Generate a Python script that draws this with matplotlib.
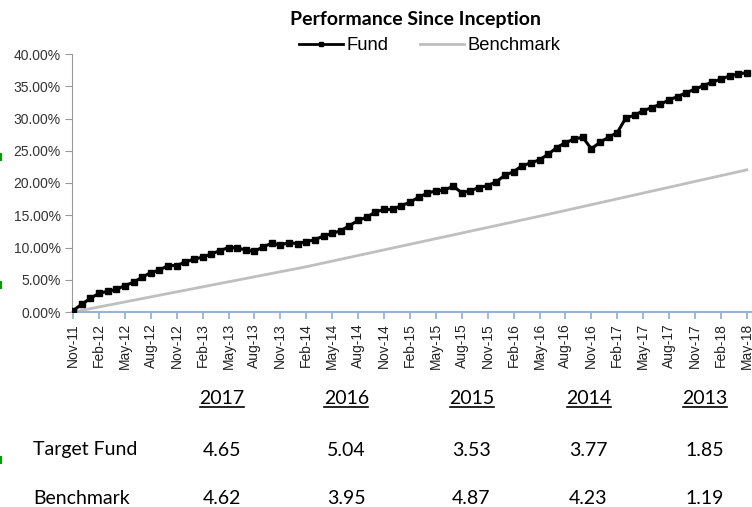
"""
Performance Since Inception - Fund vs Benchmark, com tabela anual abaixo.
"""

import matplotlib
matplotlib.use('Agg')
import matplotlib.pyplot as plt
from matplotlib.lines import Line2D
import numpy as np
import pandas as pd

# Dados (retorno acumulado em %, mensal de Nov-11 a May-18)
fund = [0.2, 1.2, 2.1, 2.9, 3.2, 3.5, 4.1, 4.6, 5.4, 6.1,
        6.5, 7.2, 7.2, 7.75, 8.2, 8.5, 9.0, 9.5, 10.0, 9.95,
        9.6, 9.4, 10.1, 10.65, 10.4, 10.75, 10.6, 10.9, 11.2, 11.8,
        12.2, 12.6, 13.4, 14.2, 14.7, 15.5, 15.9, 15.9, 16.5, 17.0,
        17.8, 18.4, 18.8, 18.9, 19.5, 18.5, 18.8, 19.3, 19.6, 20.2,
        21.2, 21.75, 22.7, 23.1, 23.6, 24.45, 25.5, 26.25, 26.8, 27.1,
        25.3, 26.3, 27.1, 27.8, 30.1, 30.5, 31.2, 31.7, 32.2, 32.9,
        33.4, 34.0, 34.55, 35.1, 35.65, 36.1, 36.6, 36.9, 37.1]

benchmark = [0.00, 0.26, 0.52, 0.78, 1.04, 1.30, 1.56, 1.82, 2.08, 2.34,
             2.60, 2.86, 3.12, 3.38, 3.64, 3.90, 4.16, 4.42, 4.68, 4.94,
             5.20, 5.46, 5.72, 5.98, 6.24, 6.50, 6.76, 7.02, 7.31, 7.60,
             7.89, 8.18, 8.47, 8.76, 9.05, 9.34, 9.63, 9.92, 10.21, 10.50,
             10.79, 11.08, 11.37, 11.66, 11.95, 12.24, 12.53, 12.82, 13.11, 13.40,
             13.69, 13.98, 14.27, 14.56, 14.85, 15.14, 15.44, 15.74, 16.04, 16.34,
             16.64, 16.94, 17.24, 17.54, 17.84, 18.14, 18.44, 18.74, 19.04, 19.34,
             19.64, 19.94, 20.24, 20.54, 20.84, 21.14, 21.44, 21.74, 22.04]

meses = pd.date_range('2011-11-01', periods=len(fund), freq='MS').strftime('%b-%y').tolist()

anos = ['2017', '2016', '2015', '2014', '2013']
tabela_fund = ['4.65', '5.04', '3.53', '3.77', '1.85']
tabela_bench = ['4.62', '3.95', '4.87', '4.23', '1.19']

W, H = 752, 507
fig = plt.figure(figsize=(W / 100, H / 100), dpi=100)
ax = fig.add_axes([72 / W, 1 - 312 / H, 680 / W, 258 / H])

x = np.arange(1, len(fund) + 1)
ax.plot(x, benchmark, color='#BFBFBF', lw=2.0, zorder=2)
ax.plot(x, fund, color='black', lw=2.2, marker='s', markersize=5.0, zorder=3)

ax.set_xlim(0.88, 79.6)
ax.set_ylim(0, 40)
ax.set_yticks(np.arange(0, 40.1, 5))
ax.set_yticklabels([f'{v:.2f}%' for v in np.arange(0, 40.1, 5)],
                   fontsize=10, family='Liberation Sans', color='#333333')
ax.set_xticks(x[::3])
ax.set_xticklabels(meses[::3], rotation=90, fontsize=10,
                   family='Liberation Sans', color='#222222')

for s in ['top', 'right']:
    ax.spines[s].set_visible(False)
ax.spines['left'].set_color('#9A9A9A')
ax.spines['bottom'].set_color('#95B3D7')
ax.spines['bottom'].set_linewidth(1.5)
ax.tick_params(axis='y', colors='#9A9A9A', length=5, labelcolor='#333333', pad=3)
ax.tick_params(axis='x', colors='#95B3D7', length=5, width=1.3,
               labelcolor='#222222', pad=3)

# Título e legenda
fonte_tab = ['Lato', 'DejaVu Sans']
fig.text(415 / W, 1 - 20 / H, 'Performance Since Inception', ha='center', va='center',
         fontsize=14, fontweight='bold', family=fonte_tab)

handles = [Line2D([], [], color='black', lw=2, marker='s', markersize=2.5),
           Line2D([], [], color='#BFBFBF', lw=2)]
fig.legend(handles, ['Fund', 'Benchmark'], loc='center', ncol=2, frameon=False,
           bbox_to_anchor=(430 / W, 1 - 46 / H), prop={'family': 'Liberation Sans', 'size': 13.2},
           handlelength=2.4, handletextpad=0.2, columnspacing=1.7, borderpad=0)

# Tabela anual
xs = [221.6, 346.3, 471.5, 588.5, 705.0]
for xi, ano, vf, vb in zip(xs, anos, tabela_fund, tabela_bench):
    fig.text(xi / W, 1 - 398 / H, ano, ha='center', va='center', fontsize=14,
             family=fonte_tab)
    fig.add_artist(Line2D([(xi - 22) / W, (xi + 22) / W], [1 - 407 / H, 1 - 407 / H],
                          color='black', lw=1.2))
    fig.text(xi / W, 1 - 450 / H, vf, ha='center', va='center', fontsize=14, family=fonte_tab)
    fig.text(xi / W, 1 - 499 / H, vb, ha='center', va='center', fontsize=14, family=fonte_tab)

fig.text(33 / W, 1 - 450 / H, 'Target Fund', ha='left', va='center', fontsize=14, family=fonte_tab)
fig.text(33 / W, 1 - 499 / H, 'Benchmark', ha='left', va='center', fontsize=14, family=fonte_tab)

# marcas verdes na borda esquerda (seleção do Excel)
for yy in [157, 285, 460]:
    fig.add_artist(Line2D([1 / W, 1 / W], [1 - (yy - 3) / H, 1 - (yy + 3) / H],
                          color='#00A000', lw=1.5))

fig.savefig('out.png', dpi=100)
